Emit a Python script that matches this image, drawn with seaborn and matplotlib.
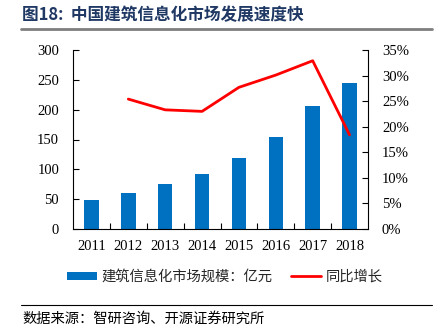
import matplotlib
matplotlib.use("Agg")
import matplotlib.pyplot as plt
import seaborn as sns
import numpy as np
import pandas as pd
from matplotlib.lines import Line2D
from matplotlib.patches import Patch
from matplotlib.ticker import FuncFormatter, FixedLocator

years = ["2011", "2012", "2013", "2014", "2015", "2016", "2017", "2018"]
market_size = [49, 61, 75, 93, 119, 155, 206, 245]
growth_years = ["2012", "2013", "2014", "2015", "2016", "2017", "2018"]
growth_pct = [25.4, 23.3, 23.0, 27.7, 30.1, 32.9, 18.4]

title_text = "图18:  中国建筑信息化市场发展速度快"
bar_label = "建筑信息化市场规模：亿元"
line_label = "同比增长"
source_text = "数据来源：智研咨询、开源证券研究所"

sns.set_theme(style="white")
plt.rcParams['font.family'] = ['Liberation Serif', 'Noto Sans CJK SC', 'DejaVu Sans']
cjk = ['Noto Sans CJK SC', 'DejaVu Sans']

blue = "#0070C0"
red = "#FF0000"

fig = plt.figure(figsize=(4.38, 3.26), dpi=100)
ax = fig.add_axes([73/438, 1-229/326, (368-73)/438, (229-50)/326])

df = pd.DataFrame({"year": years, "size": market_size})
sns.barplot(data=df, x="year", y="size", ax=ax, color=blue, width=0.39,
            saturation=1, edgecolor="none")

ax2 = ax.twinx()
pos = [years.index(y) for y in growth_years]
dfl = pd.DataFrame({"pos": pos, "g": growth_pct})
sns.lineplot(data=dfl, x="pos", y="g", ax=ax2, color=red, linewidth=2)

ax.set_xlim(-0.5, len(years) - 0.5)
ax.set_ylim(0, 300)
ax.set_yticks(np.arange(0, 301, 50))
ax2.set_ylim(0, 35)
ax2.set_yticks(np.arange(0, 36, 5))
ax2.yaxis.set_major_formatter(FuncFormatter(lambda v, p: f"{int(v)}%"))

ax.set_xlabel("")
ax.set_ylabel("")
ax2.set_xlabel("")
ax2.set_ylabel("")

for a in (ax, ax2):
    a.spines['top'].set_visible(False)
    for s in ['left', 'right', 'bottom']:
        a.spines[s].set_color("#000000")
        a.spines[s].set_linewidth(0.8)
    a.grid(False)

ax.spines['right'].set_visible(False)
ax2.spines['left'].set_visible(False)
ax2.spines['bottom'].set_visible(False)

ax.tick_params(axis='x', which='major', length=0, pad=8, labelsize=10.5, colors="#000000")
ax.xaxis.set_minor_locator(FixedLocator(np.arange(0.5, len(years) - 1, 1.0)))
ax.tick_params(axis='x', which='minor', direction='in', length=4, width=0.8, color="#000000", bottom=True)
ax.tick_params(axis='y', direction='in', length=4, width=0.8, labelsize=10.5, pad=10, left=True, colors="#000000")
ax2.tick_params(axis='y', direction='in', length=4, width=0.8, labelsize=10.5, pad=10, right=True, colors="#000000")

for lab in ax.get_xticklabels() + ax.get_yticklabels() + ax2.get_yticklabels():
    lab.set_family('Liberation Serif')

# title and rules
fig.text(22/438, 1-15/326, title_text, fontsize=12, fontweight='bold', color="#1F3864",
         family=cjk, va='center', ha='left')
fig.add_artist(Line2D([21/438, 432/438], [1-28.5/326, 1-28.5/326], color="#7F7F7F", linewidth=2))
fig.add_artist(Line2D([21/438, 432/438], [1-305/326, 1-305/326], color="#000000", linewidth=0.8))
fig.text(22/438, 1-319/326, source_text, fontsize=10.3, color="#000000", family=cjk,
         va='center', ha='left')

handles = [Patch(facecolor=blue, edgecolor='none', label=bar_label),
           Line2D([0], [0], color=red, linewidth=2, label=line_label)]
leg = fig.legend(handles=handles, loc='center', bbox_to_anchor=(225/438, 1-277/326), ncol=2,
                 frameon=False, handlelength=2.1, handleheight=0.5, columnspacing=1.3,
                 handletextpad=0.3, prop={'family': cjk, 'size': 10.3})

fig.savefig("out.png", dpi=100)
